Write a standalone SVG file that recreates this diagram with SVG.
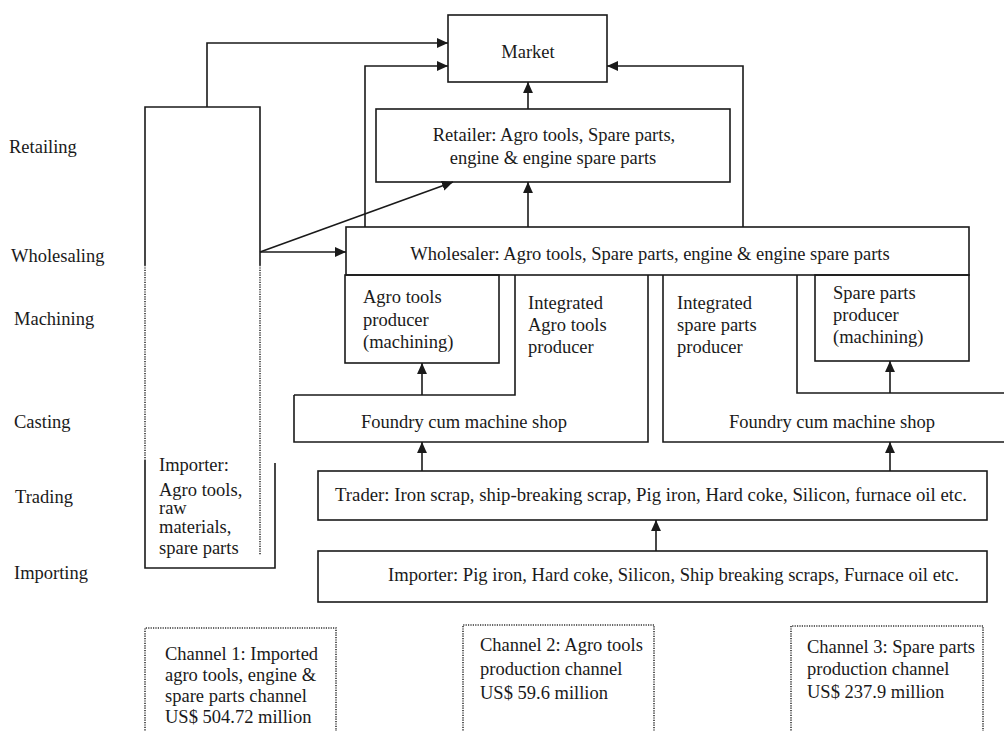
<svg xmlns="http://www.w3.org/2000/svg" width="1004" height="731" viewBox="0 0 1004 731">
<style>
text{font-family:"Liberation Serif","Times New Roman",serif;font-size:18.5px;fill:#1a1a1a}
.s{fill:none;stroke:#1a1a1a;stroke-width:1.6}
.d{fill:none;stroke:#333;stroke-width:1.6;stroke-dasharray:1.2 1.2}
.c{text-anchor:middle}
.e{fill:none;stroke:#1a1a1a;stroke-width:1.6;marker-end:url(#ah)}
</style>
<defs>
<marker id="ah" viewBox="0 0 10 10" refX="10" refY="5" markerWidth="11" markerHeight="11" markerUnits="userSpaceOnUse" orient="auto">
<path d="M0,0.5 L10,5 L0,9.5 Z" fill="#1a1a1a"/>
</marker>
</defs>
<rect width="1004" height="731" fill="#fff"/>
<g id="stage-labels">
<text x="9" y="153">Retailing</text>
<text x="11" y="262">Wholesaling</text>
<text x="14" y="325">Machining</text>
<text x="14" y="428">Casting</text>
<text x="15" y="503">Trading</text>
<text x="14" y="579">Importing</text>
</g>
<g id="market">
<rect class="s" x="448" y="15" width="159" height="67"/>
<text class="c" x="528" y="58">Market</text>
</g>
<g id="retailer">
<rect class="s" x="376" y="109" width="354" height="73"/>
<text class="c" x="554" y="141">Retailer: Agro tools, Spare parts,</text>
<text class="c" x="553" y="164">engine &amp; engine spare parts</text>
</g>
<g id="wholesaler">
<rect class="s" x="346" y="227" width="623" height="48"/>
<text class="c" x="650" y="260">Wholesaler: Agro tools, Spare parts, engine &amp; engine spare parts</text>
</g>
<g id="importer-agro">
<path class="s" d="M145,265 V107 H260 V265"/>
<path class="d" d="M145,265 V460 M260,265 V555"/>
<path class="s" d="M145,460 V568 H275 V463"/>
<text x="159" y="471">Importer:</text>
<text x="159" y="496">Agro tools,</text>
<text x="159" y="514">raw</text>
<text x="159" y="533">materials,</text>
<text x="159" y="554">spare parts</text>
</g>
<g id="agro-producer">
<rect class="s" x="345" y="275" width="154" height="88"/>
<text x="363" y="303">Agro tools</text>
<text x="363" y="326">producer</text>
<text x="363" y="348">(machining)</text>
</g>
<g id="foundry-agro">
<path class="s" d="M294,395 H515 V275 M648,275 V442 H294 V395"/>
<text x="528" y="309">Integrated</text>
<text x="528" y="331">Agro tools</text>
<text x="528" y="353">producer</text>
<text class="c" x="464" y="428">Foundry cum machine shop</text>
</g>
<g id="foundry-spare">
<path class="s" d="M663,275 V442 H1006 M797,275 V393 H1006"/>
<text x="677" y="309">Integrated</text>
<text x="677" y="331">spare parts</text>
<text x="677" y="353">producer</text>
<text class="c" x="832" y="428">Foundry cum machine shop</text>
</g>
<g id="spare-producer">
<rect class="s" x="815" y="275" width="154" height="86"/>
<text x="833" y="299">Spare parts</text>
<text x="833" y="321">producer</text>
<text x="833" y="343">(machining)</text>
</g>
<g id="trader">
<rect class="s" x="318" y="471" width="669" height="49"/>
<text x="335" y="501" textLength="632" lengthAdjust="spacingAndGlyphs">Trader: Iron scrap, ship-breaking scrap, Pig iron, Hard coke, Silicon, furnace oil etc.</text>
</g>
<g id="importer-raw">
<rect class="s" x="318" y="551" width="669" height="51"/>
<text x="388" y="581" textLength="571" lengthAdjust="spacingAndGlyphs">Importer: Pig iron, Hard coke, Silicon, Ship breaking scraps, Furnace oil etc.</text>
</g>
<g id="channel-1">
<path class="d" d="M145,740 V628 H336 V740"/>
<text x="165" y="660">Channel 1: Imported</text>
<text x="165" y="681">agro tools, engine &amp;</text>
<text x="165" y="702">spare parts channel</text>
<text x="165" y="723">US$ 504.72 million</text>
</g>
<g id="channel-2">
<path class="d" d="M463,740 V625 H654 V740"/>
<text x="480" y="651">Channel 2: Agro tools</text>
<text x="480" y="675">production channel</text>
<text x="480" y="699">US$ 59.6 million</text>
</g>
<g id="channel-3">
<path class="d" d="M791,740 V626 H983 V740"/>
<text x="807" y="653">Channel 3: Spare parts</text>
<text x="807" y="675">production channel</text>
<text x="807" y="698">US$ 237.9 million</text>
</g>
<g id="connectors">
<path class="e" d="M207,107 V43 H448"/>
<path class="e" d="M365,227 V66 H448"/>
<path class="e" d="M743,227 V66 H607"/>
<path class="e" d="M528,109 V82"/>
<path class="e" d="M528,227 V182"/>
<path class="e" d="M260,252 H346"/>
<path class="e" d="M260,252 L453,182"/>
<path class="e" d="M422,395 V363"/>
<path class="e" d="M890,393 V361"/>
<path class="e" d="M422,471 V442"/>
<path class="e" d="M890,471 V442"/>
<path class="e" d="M656,551 V520"/>
</g>
</svg>
